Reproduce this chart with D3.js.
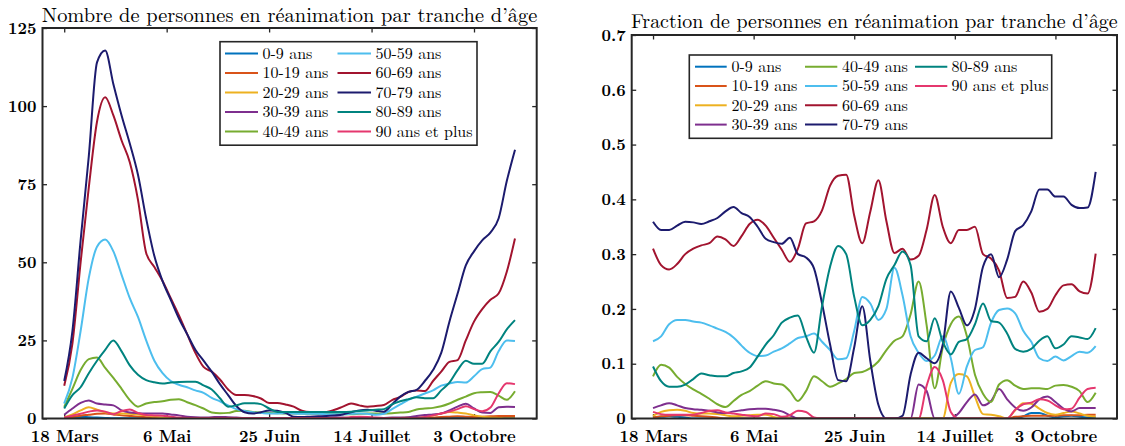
<!DOCTYPE html>
<html>
<head>
<meta charset="utf-8">
<script src="https://cdn.jsdelivr.net/npm/d3@7"></script>
<style>
html, body { margin: 0; padding: 0; background: #fff; }
svg { display: block; }
text { font-family: "Latin Modern Roman", "CMU Serif", "Liberation Serif", "DejaVu Serif", serif; fill: #000; }
</style>
</head>
<body>
<svg id="chart" width="1125" height="446"></svg>
<script>
// Day index (days since 18 March), sampled every 4 days
const days = [
  0, 4, 8, 12, 16, 20, 24, 28,
  32, 36, 40, 44, 48, 52, 56, 60,
  64, 68, 72, 76, 80, 84, 88, 92,
  96, 100, 104, 108, 112, 116, 120, 124,
  128, 132, 136, 140, 144, 148, 152, 156,
  160, 164, 168, 172, 176, 180, 184, 188,
  192, 196, 200, 204, 208, 212, 216, 220
];

const ageGroups = ["0-9 ans", "10-19 ans", "20-29 ans", "30-39 ans", "40-49 ans",
                   "50-59 ans", "60-69 ans", "70-79 ans", "80-89 ans", "90 ans et plus"];
const ageColors = ["#0072BD", "#D95319", "#EDB120", "#7E2F8E", "#77AC30",
                   "#4DBEEE", "#A2142F", "#1C1B6E", "#00837F", "#E5376E"];

const xTickDays = [0, 50, 100, 150, 200];
const xTickLabels = ["18 Mars", "6 Mai", "25 Juin", "14 Juillet", "3 Octobre"];
const yTicksCount = [0, 25, 50, 75, 100, 125];
const yTicksFraction = [0, 0.1, 0.2, 0.3, 0.4, 0.5, 0.6, 0.7];
const yLabelsFraction = ["0", "0.1", "0.2", "0.3", "0.4", "0.5", "0.6", "0.7"];

// Number of people in intensive care, by age group
const icu0_9 = [
  0.2, 0.4, 0.5, 0.4, 0.3, 0.2, 0.1, 0.1,
  0.1, 0.1, 0.1, 0.1, 0.1, 0.1, 0.1, 0.1,
  0.1, 0.1, 0.1, 0.1, 0.1, 0.1, 0.1, 0.1,
  0.1, 0.1, 0.1, 0.1, 0.1, 0.1, 0.1, 0.1,
  0.1, 0.1, 0.1, 0.1, 0.1, 0.1, 0.1, 0.1,
  0.1, 0.1, 0.1, 0.1, 0.1, 0.1, 0.1, 0.3,
  0.4, 0.3, 0.2, 0.3, 0.4, 0.3, 0.2, 0.2
];
const icu10_19 = [
  0.2, 0.5, 0.9, 1.2, 1.5, 1.6, 1.3, 1,
  0.8, 0.6, 0.4, 0.3, 0.2, 0.2, 0.2, 0.2,
  0.2, 0.2, 0.2, 0.2, 0.2, 0.2, 0.2, 0.2,
  0.2, 0.2, 0.2, 0.2, 0.2, 0.2, 0.2, 0.2,
  0.2, 0.2, 0.2, 0.2, 0.2, 0.2, 0.2, 0.2,
  0.2, 0.2, 0.2, 0.2, 0.2, 0.3, 0.5, 0.6,
  0.7, 0.6, 0.5, 0.6, 0.7, 0.8, 0.8, 0.8
];
const icu20_29 = [
  0.3, 1.3, 2.6, 3.6, 2.8, 2, 1.6, 1.6,
  1.5, 1.3, 1, 0.6, 0.3, 0.2, 0.2, 0.1,
  0.1, 0.1, 0.1, 0.1, 0.1, 0.1, 0.1, 0.1,
  0.1, 0.1, 0.1, 0.1, 0.1, 0.1, 0.1, 0.1,
  0.1, 0.1, 0.1, 0.1, 0.1, 0.1, 0.1, 0.1,
  0.1, 0.2, 0.3, 0.3, 0.5, 1, 1.6, 2.1,
  1.9, 1.6, 1, 0.6, 0.3, 0.2, 0.1, 0.1
];
const icu30_39 = [
  1.2, 3.2, 5, 5.8, 4.8, 4.5, 4.2, 2.6,
  1.9, 1.7, 1.6, 1.6, 1.6, 1.3, 1, 0.6,
  0.4, 0.3, 0.4, 0.5, 0.4, 0.3, 0.2, 0.2,
  0.2, 0.2, 0.2, 0.2, 0.2, 0.2, 0.2, 0.2,
  0.3, 0.4, 0.3, 0.2, 0.2, 0.2, 0.2, 0.2,
  0.3, 0.3, 0.4, 0.8, 1.1, 1.3, 1.6, 2.6,
  3.8, 4.7, 3.2, 1.9, 1.8, 3.6, 3.8, 3.7
];
const icu40_49 = [
  3.7, 9.5, 15.5, 19, 19.5, 16.2, 13, 9.5,
  5.9, 3.8, 4.8, 5.3, 5.5, 6, 6.2, 5.2,
  4.3, 3.2, 1.9, 1.7, 1.8, 2.4, 2.5, 2.1,
  1.9, 1.8, 1.7, 1.6, 1.6, 1.6, 1.5, 1.5,
  1.5, 1.5, 1.4, 1.4, 1.5, 1.6, 1.6, 1.6,
  1.7, 1.9, 2.1, 2.9, 3.2, 3.4, 3.9, 4.8,
  6, 7, 8.1, 8.4, 8.5, 7.3, 6, 8.7
];
const icu50_59 = [
  4.8, 13, 28, 45, 55, 57.3, 53.5, 46,
  38.5, 32.5, 25, 18.5, 14.5, 12, 10.8, 10,
  9, 8.2, 6.6, 5.5, 4.2, 3, 2.4, 2,
  1.8, 1.6, 1.6, 1.7, 1.6, 1.5, 1.5, 1.5,
  1.4, 1.4, 1.4, 1.5, 1.6, 1.5, 1.2, 1.5,
  3, 4.5, 6, 7, 8, 9, 10.5, 11.2,
  11.7, 11.5, 13.5, 15.8, 16.3, 21.5, 25, 24.8
];
const icu60_69 = [
  10.5, 24, 50, 74, 95, 102.8, 97, 89,
  82, 70, 53, 48.5, 44, 38.5, 33, 27,
  21, 16.5, 15, 12.5, 9.3, 7.5, 7.5, 7.2,
  6.4, 5, 5, 4.5, 3.8, 2.5, 2.1, 2.1,
  2.1, 2.8, 3.8, 4.8, 4.2, 3.8, 4, 4.3,
  5.9, 6.9, 8.5, 9, 8.8, 12, 15, 18.1,
  18.7, 25, 31, 35, 38, 40, 47, 57.6
];
const icu70_79 = [
  12, 28, 57, 84, 114, 117.8, 107, 97,
  88, 78, 64, 52, 44, 38, 32, 27,
  22, 18.5, 15, 11, 7.5, 4, 2, 1.6,
  2, 2.6, 2.5, 1.8, 0.6, 0.5, 0.6, 0.7,
  0.8, 1, 1.3, 2, 2.6, 2.8, 2.5, 2.2,
  4.5, 7, 8.5, 9.2, 12, 15.5, 21, 31,
  40, 49, 53.5, 57, 59.5, 64, 76, 86
];
const icu80_89 = [
  3.2, 7.5, 10, 14.5, 18.5, 22, 25, 21.5,
  17, 14, 12.3, 11.6, 11.2, 11.5, 11.7, 11.8,
  11.8, 10.6, 9.3, 6.5, 3.8, 4.2, 4.9, 4.9,
  4.6, 3.2, 2.1, 2.1, 2.1, 2.1, 2.1, 2.1,
  2.1, 2.1, 2.1, 2.2, 2.4, 2.6, 2.8, 3,
  4.5, 5.5, 6.2, 6.8, 6.5, 6.5, 9, 11.5,
  15.5, 18.5, 17.5, 17.5, 21.5, 24.5, 28.5, 31.5
];
const icu90plus = [
  0.3, 0.9, 1.5, 2.2, 2.6, 2.2, 1.4, 2.4,
  2.9, 1.8, 1.1, 1, 0.9, 0.6, 0.3, 0.2,
  0.2, 0.2, 0.2, 0.2, 0.2, 0.2, 0.2, 0.2,
  0.2, 0.2, 0.2, 0.2, 0.2, 0.2, 0.2, 0.2,
  0.2, 0.2, 0.2, 0.5, 0.6, 0.5, 0.3, 0.2,
  0.2, 0.2, 0.2, 0.2, 0.5, 1, 1.6, 2.2,
  3, 3.9, 3, 2.3, 3.5, 8, 11.3, 11
];

// Share of intensive-care patients, by age group
const frac0_9 = [
  0.002, 0.003, 0.004, 0.003, 0.002, 0, 0, 0,
  0, 0, 0, 0, 0, 0, 0, 0,
  0, 0, 0, 0, 0, 0, 0, 0,
  0, 0, 0, 0, 0, 0, 0, 0,
  0, 0, 0, 0, 0, 0, 0, 0,
  0, 0, 0, 0, 0, 0, 0.004, 0.01,
  0.01, 0.005, 0.002, 0.004, 0.005, 0.003, 0.002, 0.002
];
const frac10_19 = [
  0.002, 0.004, 0.005, 0.006, 0.006, 0.005, 0.004, 0.003,
  0.002, 0, 0, 0, 0, 0, 0, 0,
  0, 0, 0, 0, 0, 0, 0, 0,
  0, 0, 0, 0, 0, 0, 0, 0,
  0, 0, 0, 0, 0, 0, 0, 0,
  0, 0, 0, 0, 0, 0.003, 0.004, 0.005,
  0.005, 0.005, 0.005, 0.006, 0.006, 0.006, 0.007, 0.007
];
const frac20_29 = [
  0.005, 0.012, 0.015, 0.016, 0.014, 0.01, 0.009, 0.009,
  0.008, 0.006, 0.004, 0.005, 0.006, 0.007, 0.007, 0.003,
  0, 0, 0, 0, 0, 0, 0, 0,
  0, 0, 0, 0, 0, 0, 0, 0,
  0, 0, 0, 0, 0, 0.065, 0.081, 0.077,
  0.04, 0.008, 0.007, 0.004, 0, 0.015, 0.028, 0.027,
  0.018, 0.01, 0.007, 0.01, 0.013, 0.009, 0.005, 0.003
];
const frac30_39 = [
  0.019, 0.024, 0.028, 0.024, 0.019, 0.017, 0.016, 0.014,
  0.011, 0.01, 0.013, 0.015, 0.017, 0.018, 0.018, 0.016,
  0.013, 0.006, 0, 0, 0, 0, 0, 0,
  0, 0, 0, 0, 0, 0, 0, 0,
  0, 0.062, 0.05, 0, 0, 0, 0.01, 0.03,
  0.044, 0.024, 0.032, 0.054, 0.035, 0.02, 0.014, 0.02,
  0.035, 0.04, 0.03, 0.018, 0.013, 0.019, 0.019, 0.019
];
const frac40_49 = [
  0.077, 0.098, 0.093, 0.076, 0.063, 0.053, 0.045, 0.036,
  0.026, 0.021, 0.032, 0.043, 0.05, 0.06, 0.068, 0.064,
  0.062, 0.05, 0.032, 0.05, 0.077, 0.068, 0.058, 0.064,
  0.072, 0.083, 0.085, 0.092, 0.104, 0.125, 0.142, 0.15,
  0.19, 0.25, 0.17, 0.055, 0.13, 0.172, 0.186, 0.15,
  0.08, 0.045, 0.03, 0.062, 0.07, 0.06, 0.054, 0.055,
  0.055, 0.054, 0.06, 0.061, 0.058, 0.05, 0.03, 0.047
];
const frac50_59 = [
  0.141, 0.15, 0.172, 0.18, 0.18, 0.177, 0.175, 0.17,
  0.164, 0.158, 0.148, 0.133, 0.12, 0.114, 0.115, 0.122,
  0.128, 0.137, 0.147, 0.15, 0.155, 0.14, 0.125, 0.108,
  0.11, 0.16, 0.222, 0.21, 0.18, 0.2, 0.275, 0.225,
  0.15, 0.12, 0.105, 0.115, 0.15, 0.11, 0.045, 0.095,
  0.125, 0.13, 0.175, 0.198, 0.201, 0.192, 0.16, 0.14,
  0.11, 0.105, 0.113, 0.106, 0.114, 0.122, 0.12, 0.132
];
const frac60_69 = [
  0.31, 0.28, 0.272, 0.282, 0.3, 0.31, 0.316, 0.32,
  0.332, 0.327, 0.315, 0.333, 0.355, 0.363, 0.352, 0.33,
  0.308, 0.286, 0.31, 0.356, 0.36, 0.38, 0.425, 0.443,
  0.445, 0.37, 0.32, 0.378, 0.435, 0.36, 0.302, 0.31,
  0.29, 0.297, 0.345, 0.408, 0.35, 0.32, 0.344, 0.344,
  0.35, 0.3, 0.292, 0.27, 0.22, 0.222, 0.25, 0.23,
  0.195, 0.2, 0.225, 0.243, 0.245, 0.232, 0.228, 0.301
];
const frac70_79 = [
  0.359, 0.344, 0.344, 0.352, 0.359, 0.358, 0.355, 0.36,
  0.366, 0.378, 0.386, 0.375, 0.368, 0.35, 0.328, 0.322,
  0.319, 0.33, 0.3, 0.294, 0.274, 0.21, 0.135, 0.07,
  0.068, 0.13, 0.205, 0.105, 0.025, 0, 0, 0.005,
  0.08, 0.12, 0.11, 0.101, 0.135, 0.232, 0.202, 0.17,
  0.2, 0.277, 0.3, 0.258, 0.29, 0.342, 0.353, 0.378,
  0.418, 0.418, 0.405, 0.405, 0.39, 0.384, 0.385, 0.45
];
const frac80_89 = [
  0.095, 0.068, 0.058, 0.058, 0.062, 0.072, 0.082, 0.079,
  0.077, 0.077, 0.083, 0.086, 0.093, 0.113, 0.135, 0.152,
  0.175, 0.184, 0.188, 0.15, 0.12, 0.205, 0.277, 0.315,
  0.3, 0.222, 0.17, 0.18, 0.205, 0.255, 0.28, 0.305,
  0.28, 0.15, 0.141, 0.183, 0.14, 0.117, 0.14, 0.145,
  0.172, 0.21, 0.178, 0.175, 0.155, 0.127, 0.122, 0.127,
  0.142, 0.15, 0.128, 0.135, 0.15, 0.148, 0.145, 0.165
];
const frac90plus = [
  0.012, 0.008, 0.007, 0.007, 0.007, 0.007, 0.01, 0.014,
  0.015, 0.011, 0.009, 0.007, 0.005, 0.004, 0.009, 0.008,
  0.003, 0.006, 0.014, 0.012, 0.002, 0, 0, 0,
  0, 0, 0, 0, 0, 0, 0, 0,
  0, 0, 0.06, 0.094, 0.07, 0.012, 0, 0,
  0, 0, 0, 0, 0, 0.016, 0.026, 0.029,
  0.035, 0.033, 0.024, 0.017, 0.018, 0.038, 0.054, 0.056
];

const countSeries = [icu0_9, icu10_19, icu20_29, icu30_39, icu40_49,
                     icu50_59, icu60_69, icu70_79, icu80_89, icu90plus];
const fractionSeries = [frac0_9, frac10_19, frac20_29, frac30_39, frac40_49,
                        frac50_59, frac60_69, frac70_79, frac80_89, frac90plus];

const svg = d3.select("#chart");
const AXIS_COLOR = "#262626";
const TICK = 4.5;

// Scale a title's font so it spans the requested width
function fitTitle(node, width, size) {
  d3.select(node).attr("font-size", size);
  const natural = node.getComputedTextLength();
  d3.select(node).attr("font-size", size * width / natural);
}

function drawPanel(cfg) {
  const x = d3.scaleLinear().domain([-10.6, 230.6]).range([cfg.x0, cfg.x1]);
  const y = d3.scaleLinear().domain(cfg.yDomain).range([cfg.y1, cfg.y0]);
  const g = svg.append("g");

  const clipId = "clip-" + cfg.id;
  svg.append("defs").append("clipPath").attr("id", clipId)
    .append("rect")
    .attr("x", cfg.x0).attr("y", cfg.y0)
    .attr("width", cfg.x1 - cfg.x0).attr("height", cfg.y1 - cfg.y0);

  // Axes: bottom with labels, left with labels, plus top/right ticks (box)
  const styleAxis = (sel) => {
    sel.select(".domain").remove();
    sel.selectAll(".tick line").attr("stroke", AXIS_COLOR).attr("stroke-width", 1.3);
    sel.selectAll("text")
      .attr("font-family", null)
      .attr("font-size", 16.5)
      .attr("font-weight", "bold")
      .attr("fill", "#111");
  };

  g.append("g").attr("transform", `translate(0,${cfg.y1})`)
    .call(d3.axisBottom(x).tickValues(xTickDays)
      .tickFormat((d, i) => xTickLabels[i]).tickSizeInner(-TICK).tickSizeOuter(0).tickPadding(11.5))
    .call(styleAxis);
  g.append("g").attr("transform", `translate(0,${cfg.y0})`)
    .call(d3.axisTop(x).tickValues(xTickDays).tickFormat("").tickSizeInner(-TICK).tickSizeOuter(0))
    .call(styleAxis);
  g.append("g").attr("transform", `translate(${cfg.x0},0)`)
    .call(d3.axisLeft(y).tickValues(cfg.yTicks)
      .tickFormat((d, i) => cfg.yLabels[i]).tickSizeInner(-TICK).tickSizeOuter(0).tickPadding(6))
    .call(styleAxis);
  g.append("g").attr("transform", `translate(${cfg.x1},0)`)
    .call(d3.axisRight(y).tickValues(cfg.yTicks).tickFormat("").tickSizeInner(-TICK).tickSizeOuter(0))
    .call(styleAxis);

  // Data lines
  const line = d3.line()
    .x((d, i) => x(days[i]))
    .y(d => y(d))
    .curve(d3.curveMonotoneX);
  const lines = g.append("g").attr("clip-path", `url(#${clipId})`);
  cfg.series.forEach((s, k) => {
    lines.append("path")
      .attr("d", line(s))
      .attr("fill", "none")
      .attr("stroke", ageColors[k])
      .attr("stroke-width", 2)
      .attr("stroke-linejoin", "round");
  });

  // Axes box
  g.append("rect")
    .attr("x", cfg.x0).attr("y", cfg.y0)
    .attr("width", cfg.x1 - cfg.x0).attr("height", cfg.y1 - cfg.y0)
    .attr("fill", "none").attr("stroke", AXIS_COLOR).attr("stroke-width", 2);

  // Title
  const title = g.append("text")
    .attr("x", (cfg.x0 + cfg.x1) / 2).attr("y", cfg.titleY)
    .attr("text-anchor", "middle")
    .text(cfg.title);
  fitTitle(title.node(), cfg.titleWidth, 20);

  // Legend
  const L = cfg.legend;
  const lg = g.append("g");
  lg.append("rect")
    .attr("x", L.x).attr("y", L.y).attr("width", L.w).attr("height", L.h)
    .attr("fill", "#fff").attr("stroke", AXIS_COLOR).attr("stroke-width", 1.6);
  ageGroups.forEach((name, i) => {
    const col = Math.floor(i / L.rows), row = i % L.rows;
    const c = L.cols[col];
    const ry = L.row0 + row * L.rowStep;
    lg.append("line")
      .attr("x1", c[0]).attr("x2", c[1]).attr("y1", ry).attr("y2", ry)
      .attr("stroke", ageColors[i]).attr("stroke-width", 2);
    lg.append("text")
      .attr("x", c[2]).attr("y", ry).attr("dy", "0.33em")
      .attr("font-size", 16)
      .text(name);
  });
}

drawPanel({
  id: "count",
  x0: 42.5, x1: 536.7, y0: 28, y1: 418.5,
  yDomain: [0, 125], yTicks: yTicksCount, yLabels: yTicksCount.map(String),
  series: countSeries,
  title: "Nombre de personnes en réanimation par tranche d\u2019âge",
  titleY: 21.5, titleWidth: 496,
  legend: { x: 220, y: 41.7, w: 257, h: 103.5, rows: 5, row0: 53.5, rowStep: 19.5,
            cols: [[225, 258, 262.5], [337.5, 371, 375.5]] }
});

drawPanel({
  id: "fraction",
  x0: 631.7, x1: 1117, y0: 35, y1: 418.5,
  yDomain: [0, 0.7], yTicks: yTicksFraction, yLabels: yLabelsFraction,
  series: fractionSeries,
  title: "Fraction de personnes en réanimation par tranche d\u2019âge",
  titleY: 28, titleWidth: 487,
  legend: { x: 689.3, y: 55, w: 362.4, h: 83.3, rows: 4, row0: 66.7, rowStep: 19.3,
            cols: [[695, 726.7, 731.5], [805, 837.3, 842], [915, 947.3, 951.5]] }
});
</script>
</body>
</html>
